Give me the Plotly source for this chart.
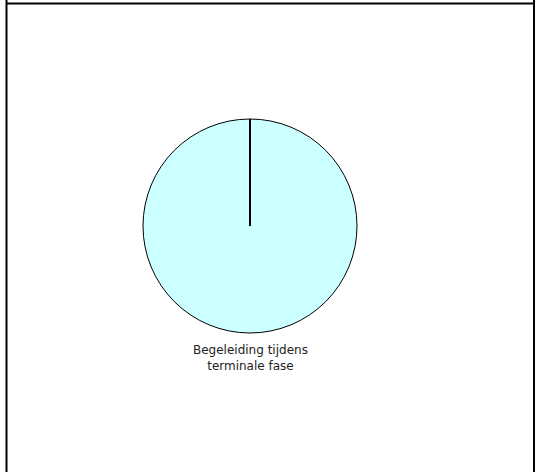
import plotly.graph_objects as go

labels = ["Begeleiding tijdens<br>terminale fase"]
values = [100]
colors = ["#CCFFFF"]

W, H = 536, 472

# pie placement in pixels (centre and radius)
cx, cy, r = 250, 226, 107
dom_x = [(cx - r) / W, (cx + r) / W]
dom_y = [1 - (cy + r) / H, 1 - (cy - r) / H]

fig = go.Figure()

fig.add_trace(go.Pie(
    labels=labels,
    values=values,
    marker=dict(colors=colors, line=dict(color="black", width=1)),
    textinfo="none",
    hoverinfo="label+percent",
    sort=False,
    direction="clockwise",
    rotation=0,
    domain=dict(x=dom_x, y=dom_y),
    showlegend=False
))

# slice edge from the centre up to the rim (start of the single slice)
fig.add_shape(type="line", xref="paper", yref="paper",
              x0=cx / W, x1=cx / W, y0=1 - cy / H, y1=dom_y[1],
              line=dict(color="black", width=2))

# category label under the pie
fig.add_annotation(
    x=cx / W, y=1 - 341 / H, xref="paper", yref="paper",
    text=labels[0], showarrow=False,
    xanchor="center", yanchor="top", align="center",
    font=dict(family="DejaVu Sans, Verdana, sans-serif", size=12, color="#222222")
)

# outer frame
frame = dict(color="black", width=2)
fig.add_shape(type="line", xref="paper", yref="paper",
              x0=6.5 / W, x1=6.5 / W, y0=0, y1=1, line=frame)
fig.add_shape(type="line", xref="paper", yref="paper",
              x0=534 / W, x1=534 / W, y0=0, y1=1, line=frame)
fig.add_shape(type="line", xref="paper", yref="paper",
              x0=6.5 / W, x1=534 / W, y0=1 - 3.5 / H, y1=1 - 3.5 / H, line=frame)

fig.update_layout(
    width=W,
    height=H,
    margin=dict(l=0, r=0, t=0, b=0),
    paper_bgcolor="white",
    plot_bgcolor="white"
)

fig.write_html("out.html", config={"displayModeBar": False},
               post_script="document.body.style.margin='0';")
